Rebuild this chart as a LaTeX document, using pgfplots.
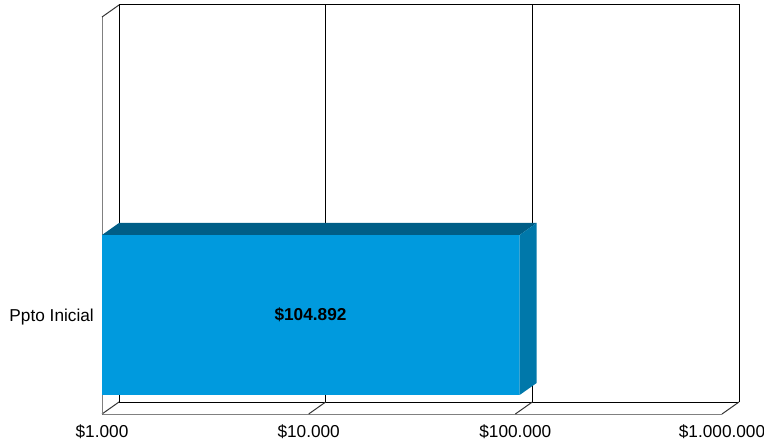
\documentclass[border=0pt]{standalone}
\usepackage{pgfplots}
\pgfplotsset{compat=1.18}
\usepackage{fontspec}
\setmainfont{Liberation Sans}
\definecolor{barfront}{RGB}{0,154,222}
\definecolor{bartop}{RGB}{0,94,135}
\definecolor{barside}{RGB}{0,120,170}
\definecolor{frontline}{RGB}{128,128,128}
\begin{document}
\begin{tikzpicture}
\begin{axis}[
  scale only axis,
  width=637bp, height=409bp,
  xmode=log, log basis x=10,
  xmin=1000, xmax=1208500,
  ymin=0, ymax=409,
  clip=false,
  axis line style={draw=none},
  major tick length=0pt,
  minor tick num=0,
  xtick={1000,10000,100000,1000000},
  xticklabels={\$1.000,\$10.000,\$100.000,\$1.000.000},
  ytick={92},
  yticklabels={Ppto Inicial},
  tick label style={font=\fontsize{17.3}{20}\selectfont},
  xticklabel style={anchor=base, yshift=-23bp},
  yticklabel style={anchor=base east, inner sep=0pt, xshift=-8bp},
]
\coordinate (A) at (rel axis cs:0,0);
% back wall
\addplot[black, line width=1pt, no marks] coordinates {(1208.5,12) (1208.5,409) (1208500,409) (1208500,12)};
\addplot[black, line width=1pt, no marks] coordinates {(12085,12) (12085,409)};
\addplot[black, line width=1pt, no marks] coordinates {(120850,12) (120850,409)};
% floor
\addplot[black, line width=1pt, no marks] coordinates {(1208.5,12) (1208500,12)};
\addplot[frontline, line width=1pt, no marks] coordinates {(1000,0) (1000000,0)};
\addplot[black!80, line width=1pt, no marks] coordinates {(1000,0) (1208.5,12)};
\addplot[black!80, line width=1pt, no marks] coordinates {(10000,0) (12085,12)};
\addplot[black!80, line width=1pt, no marks] coordinates {(100000,0) (120850,12)};
\addplot[black!80, line width=1pt, no marks] coordinates {(1000000,0) (1208500,12)};
% left side wall
\addplot[frontline, line width=1pt, no marks] coordinates {(1000,0) (1000,397)};
\addplot[black!80, line width=1pt, no marks] coordinates {(1000,397) (1208.5,409)};
% bar: Ppto Inicial = 104892
\addplot[draw=none, fill=barfront] coordinates {(1000,19) (104892,19) (104892,179) (1000,179) (1000,19)};
\addplot[draw=none, fill=bartop] coordinates {(1000,179) (104892,179) (126762,191) (1208.5,191) (1000,179)};
\addplot[draw=none, fill=barside] coordinates {(104892,19) (126762,31) (126762,191) (104892,179) (104892,19)};
\node[font=\fontsize{17.3}{20}\selectfont\bfseries] at (axis cs:10205,99) {\$104.892};
\end{axis}
\pgfresetboundingbox
\useasboundingbox (A) ++(-102bp,-29bp) rectangle ++(764bp,443bp);
\end{tikzpicture}
\end{document}
